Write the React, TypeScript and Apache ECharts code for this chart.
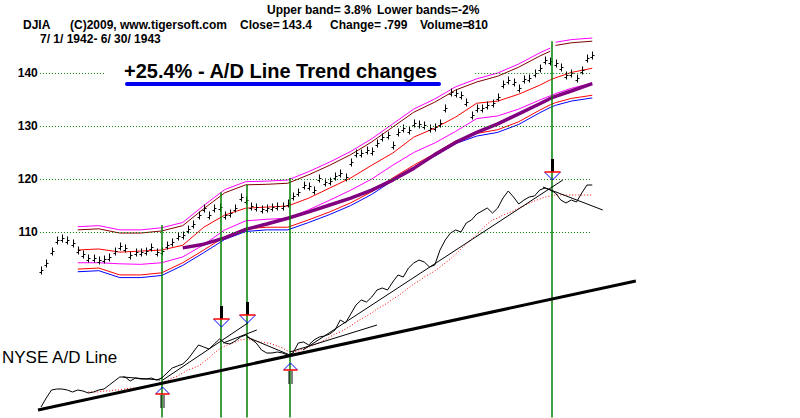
import { useEffect, useRef } from 'react';
import * as echarts from 'echarts';

// DJIA closes, one bar per trading-period index (7/1/1942 - 6/30/1943)
const closes = [
  102.8, 104.2, 106.5, 108.5, 108.8, 108.5, 107.9, 106.6, 105.9, 105.1,
  105.1, 104.7, 105.0, 105.3, 106.5, 107.3, 107.0, 105.7, 106.2, 106.2,
  106.5, 107.2, 106.2, 106.5, 107.5, 108.2, 109.2, 109.4, 110.5, 111.5,
  113.2, 114.5, 113.2, 114.5, 114.7, 113.2, 113.5, 114.5, 116.6, 116.0,
  115.0, 114.7, 114.3, 114.5, 114.7, 115.0, 115.0, 115.5, 116.8, 117.5,
  118.9, 118.6, 118.0, 120.2, 119.4, 119.6, 120.5, 121.1, 120.4, 123.2,
  124.9, 124.9, 125.5, 125.3, 126.8, 128.0, 128.3, 126.4, 128.8, 129.6,
  129.2, 130.6, 130.4, 130.2, 129.6, 129.8, 130.6, 133.4, 136.4, 136.2,
  135.8, 134.5, 132.1, 133.4, 133.4, 134.0, 134.3, 135.5, 138.0, 138.7,
  138.3, 137.2, 138.8, 139.1, 140.0, 140.9, 142.5, 142.3, 141.9, 141.1,
  139.6, 140.0, 139.1, 140.5, 142.8, 143.4,
];
const barIdx = closes.map((_, i) => i);

// Band sample positions (same x index as the bars)
const bandIdx = [7, 11, 15, 19, 23, 27, 31, 35, 39, 43, 47, 51, 55, 59, 63, 67, 71, 75, 79, 83, 87, 91, 95, 97, 97.5, 98, 101, 105];
const upperBand = [110.4, 110.6, 109.8, 109.8, 110.2, 111.2, 114.4, 117.4, 118.9, 119.0, 119.2, 120.8, 122.6, 124.6, 127.0, 129.8, 132.6, 134.5, 136.8, 138.3, 139.4, 141.1, 143.2, 144.1, null, 145.2, 145.7, 146.0];
const upperBandEdge = [111.0, 111.2, 110.4, 110.4, 110.8, 111.8, 115.0, 118.0, 119.5, 119.6, 119.8, 121.4, 123.2, 125.2, 127.6, 130.4, 133.2, 135.1, 137.4, 138.9, 140.0, 141.7, 143.8, 144.7, null, 145.8, 146.3, 146.6];
const midAverage = [106.6, 106.8, 106.2, 106.4, 106.6, 107.5, 110.9, 113.2, 114.5, 114.7, 114.9, 116.4, 118.3, 120.2, 122.6, 124.9, 127.9, 129.6, 131.7, 134.3, 134.7, 136.0, 137.7, 138.7, 138.9, 139.1, 140.1, 140.9];
const lowerBand2 = [104.2, 104.2, 104.0, 103.9, 104.2, 105.3, 107.6, 110.4, 112.1, 112.4, 112.6, 114.2, 116.0, 117.9, 120.0, 122.6, 125.0, 126.8, 129.0, 131.4, 131.9, 133.2, 134.9, 135.7, 135.9, 136.1, 137.1, 138.1];
const longAverage = [null, null, null, null, null, 107.0, 107.7, 108.9, 110.5, 111.5, 112.6, 113.8, 115.1, 116.4, 117.9, 119.8, 122.0, 124.6, 126.9, 128.8, 130.4, 132.3, 134.2, 135.2, 135.4, 135.6, 136.6, 138.0];
const lowerRed = [103.0, 103.2, 101.9, 101.9, 102.3, 104.2, 106.6, 109.1, 110.6, 110.9, 110.9, 112.3, 113.8, 115.5, 117.6, 120.2, 122.6, 124.8, 127.2, 128.6, 129.3, 130.8, 133.0, 134.0, 134.2, 134.4, 135.2, 135.8];
const lowerBlue = [102.5, 102.7, 101.4, 101.4, 101.8, 103.7, 106.1, 108.6, 110.1, 110.4, 110.4, 111.8, 113.3, 115.0, 117.1, 119.7, 122.1, 124.3, 126.7, 128.1, 128.8, 130.3, 132.5, 133.5, 133.7, 133.9, 134.7, 135.3];

// NYSE A/D line (arbitrary units), one value per bar index
const adLine = [
  10, 19, 27, 28, 28, 27, 25, 27, 26, 24,
  25, 27, 28, 32, 36, 40, 40, 36, 39, 38,
  38, 39, 37, 39, 44, 49, 51, 53, 58, 65,
  72, 70, 68, 73, 78, 74, 73, 76, 80, 82,
  78, 74, 67, 64, 64, 65, 64, 62, 64, 74,
  75, 72, 77, 80, 81, 83, 87, 97, 94, 103,
  112, 117, 115, 120, 127, 129, 127, 135, 142, 140,
  149, 154, 157, 155, 150, 152, 167, 177, 184, 187,
  185, 194, 197, 203, 206, 209, 204, 209, 219, 226,
  220, 213, 217, 220, 221, 227, 229, 227, 224, 217,
  214, 217, 215, 224, 232, 232,
];
// A/D moving average, starting at bar index 9
const adAvgStart = 9;
const adAverage = [
  25, 25, 25, 26, 26, 27, 27, 28, 29, 29,
  30, 31, 32, 33, 35, 36, 39, 41, 44, 47,
  49, 51, 55, 59, 64, 68, 71, 73, 75, 77,
  78, 77, 76, 75, 74, 73, 71, 69, 66, 65,
  66, 68, 70, 72, 74, 77, 80, 83, 85, 88,
  91, 95, 98, 101, 104, 108, 111, 114, 118, 121,
  125, 129, 133, 136, 140, 143, 146, 150, 154, 158,
  163, 168, 173, 178, 182, 188, 193, 197, 199, 202,
  204, 206, 209, 211, 214, 216, 218, 220, 221, 222,
  222, 222, 222, 222, 222, 222, 222,
];

const priceTicks = [110, 120, 130, 140];
const gridSpans: Record<number, number[][]> = {
  110: [[-0.2, 104.6]],
  120: [[-0.2, 104.6]],
  130: [[-0.2, 104.6]],
  140: [[-0.2, 12.2], [82.7, 104.6]],
};

// Signals: bar index, top of the marker line (price), A/D value at arrow tip, direction
const signalIdx = [23, 34.3, 39.2, 47.4, 97.3];
const signalTop = [111.3, 117.5, 118.9, 120.2, 146];
const signalAd = [30, 90, 94, 54, 237];
const signalDir = [1, -1, -1, 1, -1];

// A/D trend lines (index, A/D value)
const thickTrend = [[-0.57, 7], [113.3, 136]];
const thinTrends = [
  [[15.6, 40], [22.7, 37]],
  [[23.2, 37], [39.4, 94]],
  [[34.7, 74], [41.1, 87]],
  [[39.2, 80], [47.4, 62]],
  [[47.4, 65], [64, 92]],
  [[49.9, 67], [99.4, 237]],
  [[95.6, 230], [107, 207]],
];

const FONT = '"Liberation Sans", Arial, sans-serif';

function bandSeries(values: (number | null)[], color: string, width = 1, z = 2) {
  return {
    type: 'line',
    yAxisIndex: 0,
    data: bandIdx.map((x, i) => [x, values[i] == null ? '-' : values[i]]),
    symbol: 'none',
    silent: true,
    connectNulls: false,
    lineStyle: { color, width },
    z,
  };
}

export default function App() {
  const ref = useRef<HTMLDivElement>(null);
  useEffect(() => {
    document.body.style.margin = '0';
    if (!ref.current) return;
    const chart = echarts.init(ref.current, undefined, { renderer: 'svg' });

    const gridLineData: any[] = [];
    priceTicks.forEach((lvl) => {
      (gridSpans[lvl] || []).forEach(([a, b]) => {
        gridLineData.push([{ coord: [a, lvl] }, { coord: [b, lvl] }]);
      });
    });
    const signalLineData = signalIdx.map((x, i) => [
      { coord: [x, signalTop[i]] },
      { coord: [x, 75] },
    ]);

    const text = (t: string, x: number, y: number, size = 12, weight = 'bold') => ({
      type: 'text',
      x,
      y,
      silent: true,
      style: {
        text: t,
        fontSize: size,
        fontWeight: weight,
        fontFamily: FONT,
        fill: '#000',
        verticalAlign: 'middle',
        align: 'left',
      },
    });

    const option: any = {
      animation: false,
      backgroundColor: '#fff',
      grid: { left: 35.75, right: 160.5, top: 20, bottom: 0.5, outerBoundsMode: 'none' },
      xAxis: { type: 'value', min: -1, max: 114, show: false },
      yAxis: [
        {
          type: 'value',
          min: 75,
          max: 150,
          interval: 5,
          offset: -4,
          axisLine: { show: false },
          axisTick: { show: false },
          splitLine: { show: false },
          axisLabel: {
            margin: 2,
            color: '#000',
            fontWeight: 'bold',
            fontSize: 12,
            fontFamily: FONT,
            formatter: (v: number) => (priceTicks.includes(v) ? String(v) : ''),
          },
        },
        { type: 'value', min: -0.5, max: 397, show: false },
      ],
      graphic: [
        text('Upper band= 3.8%', 267, 10),
        text('Lower bands=-2%', 377, 10),
        text('DJIA', 23, 25),
        text('(C)2009, www.tigersoft.com', 70, 25),
        text('Close=', 240, 25),
        text('143.4', 282, 25),
        text('Change=', 330, 25),
        text('.799', 384, 25),
        text('Volume=', 420, 25),
        text('810', 468, 25),
        text('7/ 1/ 1942- 6/ 30/ 1943', 40, 39),
        text('+25.4% - A/D Line Trend changes', 124, 71, 20),
        {
          type: 'line',
          silent: true,
          shape: { x1: 127, y1: 84, x2: 439, y2: 84 },
          style: { stroke: '#0000ee', lineWidth: 4, lineCap: 'round' },
        },
        text('NYSE A/D Line', 2, 357, 17, 'normal'),
      ],
      series: [
        {
          ...bandSeries(midAverage, '#ff0000'),
          markLine: {
            silent: true,
            symbol: ['none', 'none'],
            label: { show: false },
            lineStyle: { color: '#008000', type: [1, 2], width: 1 },
            data: gridLineData,
          },
        },
        bandSeries(upperBand, '#800000'),
        bandSeries(upperBandEdge, '#ff00ff'),
        bandSeries(lowerBand2, '#ff00ff'),
        bandSeries(lowerRed, '#ff0000'),
        bandSeries(lowerBlue, '#0000ff'),
        bandSeries(longAverage, '#800080', 3.5, 3),
        {
          type: 'custom',
          yAxisIndex: 0,
          silent: true,
          z: 4,
          data: barIdx.map((x, i) => [x, closes[i]]),
          renderItem: (_p: any, api: any) => {
            const pt = api.coord([api.value(0), api.value(1)]);
            const x = Math.round(pt[0]) + 0.5;
            const y = Math.round(pt[1]) + 0.5;
            const st = { stroke: '#000', lineWidth: 1 };
            return {
              type: 'group',
              children: [
                { type: 'line', shape: { x1: x, y1: y - 4, x2: x, y2: y + 4 }, style: st },
                { type: 'line', shape: { x1: x - 2, y1: y + 2, x2: x, y2: y + 2 }, style: st },
                { type: 'line', shape: { x1: x, y1: y, x2: x + 2, y2: y }, style: st },
              ],
            };
          },
        },
        {
          type: 'line',
          yAxisIndex: 1,
          data: adAverage.map((v, i) => [adAvgStart + i, v]),
          symbol: 'none',
          silent: true,
          lineStyle: { color: '#ff0000', width: 1, type: [1, 2] },
          z: 4,
        },
        {
          type: 'line',
          yAxisIndex: 1,
          data: barIdx.map((x, i) => [x, adLine[i]]),
          symbol: 'none',
          silent: true,
          lineStyle: { color: '#000', width: 1 },
          z: 5,
        },
        {
          type: 'line',
          yAxisIndex: 1,
          data: thickTrend,
          symbol: 'none',
          silent: true,
          clip: false,
          lineStyle: { color: '#000', width: 3 },
          z: 5,
        },
        ...thinTrends.map((seg) => ({
          type: 'line',
          yAxisIndex: 1,
          data: seg,
          symbol: 'none',
          silent: true,
          lineStyle: { color: '#000', width: 1 },
          z: 5,
        })),
        {
          type: 'line',
          yAxisIndex: 0,
          data: barIdx.map((x, i) => [x, closes[i]]),
          symbol: 'none',
          silent: true,
          lineStyle: { opacity: 0 },
          z: 6,
          markLine: {
            silent: true,
            symbol: ['none', 'none'],
            label: { show: false },
            lineStyle: { color: '#008000', type: 'solid', width: 1.5 },
            data: signalLineData,
          },
        },
        {
          type: 'custom',
          yAxisIndex: 1,
          silent: true,
          z: 7,
          data: signalIdx.map((x, i) => [x, signalAd[i], signalDir[i]]),
          renderItem: (_p: any, api: any) => {
            const pt = api.coord([api.value(0), api.value(1)]);
            const dir = api.value(2);
            const x = Math.round(pt[0]) + 0.5;
            const y = Math.round(pt[1]);
            if (dir > 0) {
              return {
                type: 'group',
                children: [
                  { type: 'polyline', shape: { points: [[x - 7, y + 7], [x, y], [x + 7, y + 7]] }, style: { stroke: '#0000ff', fill: null, lineWidth: 1 } },
                  { type: 'line', shape: { x1: x - 7, y1: y + 7, x2: x + 7, y2: y + 7 }, style: { stroke: '#ff0000', lineWidth: 1.5 } },
                  { type: 'line', shape: { x1: x - 1.5, y1: y + 8, x2: x - 1.5, y2: y + 21 }, style: { stroke: '#000', lineWidth: 1 } },
                  { type: 'line', shape: { x1: x + 1.5, y1: y + 8, x2: x + 1.5, y2: y + 21 }, style: { stroke: '#000', lineWidth: 1 } },
                ],
              };
            }
            return {
              type: 'group',
              children: [
                { type: 'rect', shape: { x: x - 1.5, y: y - 21, width: 3, height: 13 }, style: { fill: '#000' } },
                { type: 'polyline', shape: { points: [[x - 8, y - 8], [x, y], [x + 8, y - 8]] }, style: { stroke: '#0000ff', fill: null, lineWidth: 1 } },
                { type: 'line', shape: { x1: x - 8, y1: y - 8, x2: x + 8, y2: y - 8 }, style: { stroke: '#ff0000', lineWidth: 1.5 } },
              ],
            };
          },
        },
      ],
    };
    chart.setOption(option);
    return () => chart.dispose();
  }, []);
  return <div ref={ref} style={{ width: 800, height: 418 }} />;
}
